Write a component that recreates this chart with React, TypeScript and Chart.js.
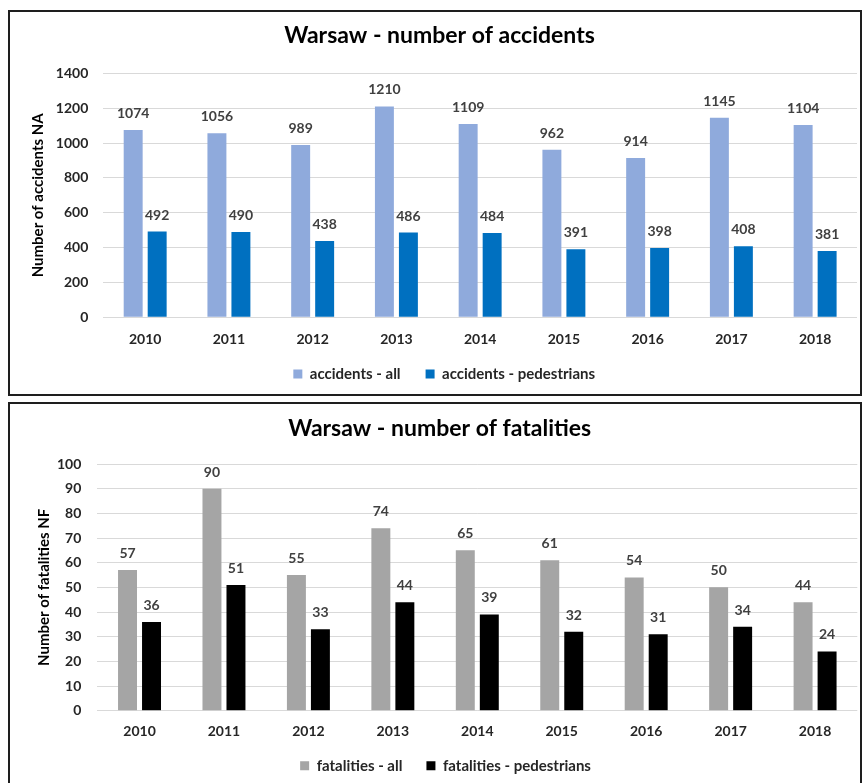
import React, { useEffect, useRef } from "react";
import { Chart, registerables } from "chart.js";

Chart.register(...registerables);

const years = ["2010", "2011", "2012", "2013", "2014", "2015", "2016", "2017", "2018"];
const accidentsAll = [1074, 1056, 989, 1210, 1109, 962, 914, 1145, 1104];
const accidentsPedestrians = [492, 490, 438, 486, 484, 391, 398, 408, 381];
const fatalitiesAll = [57, 90, 55, 74, 65, 61, 54, 50, 44];
const fatalitiesPedestrians = [36, 51, 33, 44, 39, 32, 31, 34, 24];

const FONT = "Lato";

const dataLabels = {
  id: "dataLabels",
  afterDatasetsDraw(chart: any) {
    const ctx = chart.ctx;
    ctx.save();
    ctx.font = `bold 14px ${FONT}`;
    ctx.fillStyle = "#404040";
    ctx.textAlign = "center";
    ctx.textBaseline = "alphabetic";
    chart.data.datasets.forEach((ds: any, i: number) => {
      const meta = chart.getDatasetMeta(i);
      meta.data.forEach((el: any, j: number) => {
        ctx.fillText(String(ds.data[j]), el.x, el.y - 12);
      });
    });
    ctx.restore();
  },
};

type Params = {
  title: string;
  yTitle: string;
  labels: string[];
  series: { label: string; data: number[]; color: string }[];
  max: number;
  step: number;
  pad: { left: number; right: number; top: number; bottom: number };
  titlePad: { top: number; bottom: number };
  yWidth: number;
  yTickPad: number;
  yTitlePad: number;
  xHeight: number;
  xTickPad: number;
  legendPad: number;
  legendTop: number;
  legendShiftX: number;
  catPct: number;
  barPct: number;
};

function makeConfig(p: Params): any {
  const legendPlace = {
    id: "legendPlace",
    afterLayout(chart: any) {
      const lg = chart.legend;
      if (!lg) return;
      const h = lg.height;
      lg.top = chart.chartArea.bottom + p.legendTop;
      lg.bottom = lg.top + h;
      lg.left += p.legendShiftX;
      lg.right += p.legendShiftX;
    },
  };
  return {
    type: "bar",
    data: {
      labels: p.labels,
      datasets: p.series.map((s) => ({
        label: s.label,
        data: s.data,
        backgroundColor: s.color,
        borderWidth: 0,
        categoryPercentage: p.catPct,
        barPercentage: p.barPct,
      })),
    },
    options: {
      responsive: false,
      animation: false,
      devicePixelRatio: 1,
      layout: { padding: p.pad },
      plugins: {
        title: {
          display: true,
          text: p.title,
          color: "#000000",
          font: { family: FONT, size: 23, weight: "bold" },
          padding: p.titlePad,
        },
        legend: {
          position: "bottom",
          labels: {
            boxWidth: 9,
            boxHeight: 9,
            padding: p.legendPad,
            color: "#262626",
            font: { family: FONT, size: 15, weight: "bold" },
          },
        },
        tooltip: { enabled: false },
      },
      scales: {
        x: {
          grid: { display: false, drawTicks: false },
          border: { display: false },
          ticks: {
            padding: p.xTickPad,
            color: "#262626",
            font: { family: FONT, size: 14, weight: "bold" },
          },
          afterFit: (s: any) => {
            s.height = p.xHeight;
          },
        },
        y: {
          min: 0,
          max: p.max,
          ticks: {
            stepSize: p.step,
            padding: p.yTickPad,
            color: "#262626",
            font: { family: FONT, size: 14, weight: "bold" },
            callback: (v: any) => String(v),
          },
          grid: { color: "#d9d9d9", drawTicks: false, lineWidth: 1 },
          border: { display: false },
          title: {
            display: true,
            text: p.yTitle,
            color: "#000000",
            font: { family: FONT, size: 15, weight: "bold" },
            padding: { top: p.yTitlePad, bottom: 0 },
          },
          afterFit: (s: any) => {
            s.width = p.yWidth;
          },
        },
      },
    },
    plugins: [dataLabels, legendPlace],
  };
}

function ChartBox({ params, width, height }: { params: Params; width: number; height: number }) {
  const ref = useRef<HTMLCanvasElement | null>(null);
  useEffect(() => {
    if (!ref.current) return;
    const chart = new Chart(ref.current, makeConfig(params));
    return () => chart.destroy();
  }, []);
  return (
    <canvas
      ref={ref}
      width={width}
      height={height}
      style={{ position: "absolute", left: 0, top: 0, width, height }}
    />
  );
}

// top canvas: page offset (10, 12); chart area target x 93.3..847, y 61.3..306.3
const topParams: Params = {
  title: "Warsaw - number of accidents",
  yTitle: "Number of accidents NA",
  labels: years,
  series: [
    { label: "accidents - all", data: accidentsAll, color: "#8FAADC" },
    { label: "accidents - pedestrians", data: accidentsPedestrians, color: "#0070C0" },
  ],
  max: 1400,
  step: 200,
  pad: { left: 12, right: 3, top: 0, bottom: 0.7 },
  titlePad: { top: 10.2, bottom: 23.5 },
  yWidth: 81.3,
  yTickPad: 15,
  yTitlePad: 7,
  xHeight: 34,
  xTickPad: 14,
  legendPad: 25,
  legendTop: 24.2,
  legendShiftX: 4.7,
  catPct: 0.573,
  barPct: 0.79,
};

// bottom canvas: page offset (10, 404); chart area target x 87.3..847.3, y 60..307.7
const bottomParams: Params = {
  title: "Warsaw - number of fatalities",
  yTitle: "Number of fatalities NF",
  labels: years,
  series: [
    { label: "fatalities - all", data: fatalitiesAll, color: "#A5A5A5" },
    { label: "fatalities - pedestrians", data: fatalitiesPedestrians, color: "#000000" },
  ],
  max: 100,
  step: 10,
  pad: { left: 12, right: 2.7, top: 0, bottom: 0.3 },
  titlePad: { top: 11.2, bottom: 21.2 },
  yWidth: 75.3,
  yTickPad: 16,
  yTitlePad: 13,
  xHeight: 34,
  xTickPad: 12,
  legendPad: 24,
  legendTop: 23.5,
  legendShiftX: 5.9,
  catPct: 0.5685,
  barPct: 0.79,
};

export default function App() {
  return (
    <div
      style={{
        position: "fixed",
        left: 0,
        top: 0,
        width: 863,
        height: 783,
        overflow: "hidden",
        background: "#ffffff",
      }}
    >
      <div
        style={{
          position: "absolute",
          left: 8,
          top: 10,
          width: 854,
          height: 386,
          border: "2px solid #1e1e1e",
          boxSizing: "border-box",
          overflow: "hidden",
        }}
      >
        <ChartBox params={topParams} width={850} height={390} />
      </div>
      <div
        style={{
          position: "absolute",
          left: 8,
          top: 402,
          width: 854,
          height: 400,
          border: "2px solid #1e1e1e",
          boxSizing: "border-box",
          overflow: "hidden",
        }}
      >
        <ChartBox params={bottomParams} width={850} height={390} />
      </div>
    </div>
  );
}
